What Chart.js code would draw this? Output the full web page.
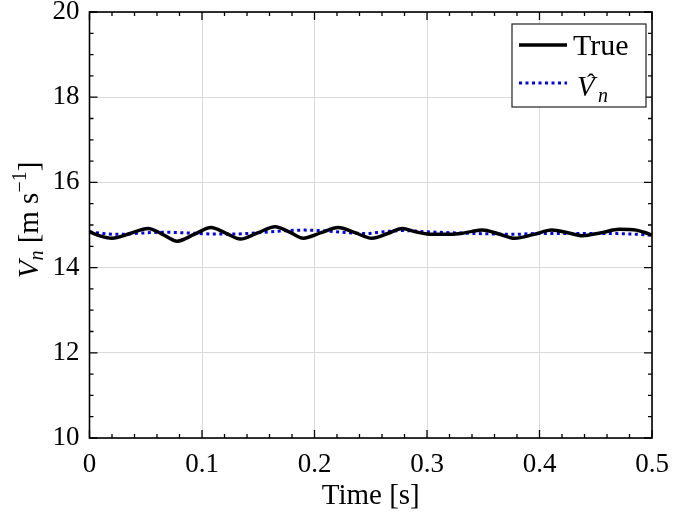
<!DOCTYPE html>
<html>
<head>
<meta charset="utf-8">
<script src="https://cdn.jsdelivr.net/npm/chart.js@4.4.1/dist/chart.umd.min.js"></script>
<style>
  html, body { margin: 0; padding: 0; background: #fff; }
  #wrap { width: 694px; height: 516px; }
</style>
</head>
<body>
<div id="wrap"><canvas id="chart" width="694" height="516"></canvas></div>
<script>
// valores
const trueTimes = [0, 0.010, 0.020, 0.036, 0.052, 0.065, 0.078, 0.093, 0.108, 0.121, 0.134, 0.150, 0.165, 0.178, 0.190, 0.206, 0.221, 0.236, 0.251, 0.265, 0.278, 0.290, 0.300, 0.315, 0.330, 0.340, 0.349, 0.364, 0.378, 0.395, 0.411, 0.425, 0.438, 0.455, 0.471, 0.486, 0.493, 0.5];
const trueValues = [14.84, 14.74, 14.69, 14.80, 14.92, 14.78, 14.62, 14.78, 14.94, 14.81, 14.67, 14.82, 14.96, 14.83, 14.69, 14.82, 14.94, 14.82, 14.69, 14.80, 14.92, 14.84, 14.79, 14.78, 14.80, 14.85, 14.88, 14.79, 14.69, 14.78, 14.88, 14.82, 14.75, 14.82, 14.90, 14.88, 14.83, 14.76];

const estTimes = [0, 0.012, 0.025, 0.045, 0.066, 0.09, 0.11, 0.13, 0.15, 0.17, 0.19, 0.205, 0.225, 0.245, 0.262, 0.278, 0.30, 0.32, 0.345, 0.375, 0.40, 0.43, 0.46, 0.48, 0.5];
const estValues = [14.84, 14.80, 14.78, 14.81, 14.83, 14.81, 14.79, 14.79, 14.82, 14.86, 14.88, 14.87, 14.83, 14.80, 14.84, 14.87, 14.84, 14.82, 14.80, 14.78, 14.80, 14.80, 14.80, 14.79, 14.76];

const xTicks = [0, 0.1, 0.2, 0.3, 0.4, 0.5];
const yTicks = [10, 12, 14, 16, 18, 20];

const FONT = '"Liberation Serif", "DejaVu Serif", serif';

// ticks para dentro, moldura, legenda e títulos
const decor = {
    id: 'decor',
    afterDraw(chart) {
        const c = chart.ctx;
        const a = chart.chartArea;
        const xs = chart.scales.x, ys = chart.scales.y;
        c.save();
        c.strokeStyle = '#000';
        c.lineWidth = 1.3;
        c.beginPath();
        for (let i = 0; i <= 25; i++) {
            const px = xs.getPixelForValue(i * 0.02);
            const len = (i % 5 === 0) ? 8 : 4;
            c.moveTo(px, a.bottom); c.lineTo(px, a.bottom - len);
            c.moveTo(px, a.top); c.lineTo(px, a.top + len);
        }
        for (let i = 0; i <= 20; i++) {
            const py = ys.getPixelForValue(10 + i * 0.5);
            const len = (i % 4 === 0) ? 8 : 4;
            c.moveTo(a.left, py); c.lineTo(a.left + len, py);
            c.moveTo(a.right, py); c.lineTo(a.right - len, py);
        }
        c.stroke();
        c.lineWidth = 1.6;
        c.strokeRect(a.left, a.top, a.right - a.left, a.bottom - a.top);

        // legenda
        const lx = 512, ly = 24, lw = 134, lh = 83;
        c.fillStyle = '#fff';
        c.fillRect(lx, ly, lw, lh);
        c.lineWidth = 1.2;
        c.strokeStyle = '#222';
        c.strokeRect(lx, ly, lw, lh);
        c.lineWidth = 3.5;
        c.strokeStyle = '#000';
        c.beginPath(); c.moveTo(519, 45); c.lineTo(567, 45); c.stroke();
        c.lineWidth = 3;
        c.strokeStyle = '#0000ff';
        c.setLineDash([3, 3.5]);
        c.beginPath(); c.moveTo(519, 83); c.lineTo(567, 83); c.stroke();
        c.setLineDash([]);
        c.fillStyle = '#000';
        c.textBaseline = 'alphabetic';
        c.textAlign = 'left';
        c.font = '30px ' + FONT;
        c.fillText('True', 573, 55);
        c.font = 'italic 29px ' + FONT;
        c.fillText('V', 577, 96);
        c.font = '24px ' + FONT;
        c.textAlign = 'center';
        c.fillText('\u02C6', 591, 90);
        c.textAlign = 'left';
        c.font = 'italic 20px ' + FONT;
        c.fillText('n', 598, 102);

        // título eixo x
        c.font = '29px ' + FONT;
        c.textAlign = 'center';
        c.fillText('Time [s]', (a.left + a.right) / 2, 504);

        // título eixo y
        c.translate(38, 220);
        c.rotate(-Math.PI / 2);
        c.textAlign = 'left';
        const parts = [
            ['italic 29px ' + FONT, 'V', 0],
            ['italic 20px ' + FONT, 'n', 5],
            ['29px ' + FONT, ' [m s', 0],
            ['20px ' + FONT, '\u22121', -12],
            ['29px ' + FONT, ']', 0]
        ];
        let w = 0;
        parts.forEach(p => { c.font = p[0]; w += c.measureText(p[1]).width; });
        let x0 = -w / 2;
        parts.forEach(p => {
            c.font = p[0];
            c.fillText(p[1], x0, p[2]);
            x0 += c.measureText(p[1]).width;
        });
        c.restore();
    }
};

new Chart(document.getElementById('chart'), {
    type: 'line',
    data: {
        datasets: [
            {
                label: 'True',
                data: trueTimes.map((t, i) => ({ x: t, y: trueValues[i] })),
                borderColor: '#000',
                borderWidth: 3.5,
                pointRadius: 0,
                cubicInterpolationMode: 'monotone'
            },
            {
                label: 'Vn hat',
                data: estTimes.map((t, i) => ({ x: t, y: estValues[i] })),
                borderColor: '#0000ff',
                borderWidth: 3,
                borderDash: [3, 3.5],
                pointRadius: 0,
                cubicInterpolationMode: 'monotone'
            }
        ]
    },
    options: {
        responsive: false,
        animation: false,
        layout: { padding: { top: 12, right: 42, left: 0, bottom: 0 } },
        plugins: { legend: { display: false }, tooltip: { enabled: false } },
        scales: {
            x: {
                type: 'linear',
                min: 0, max: 0.5,
                afterBuildTicks: s => { s.ticks = xTicks.map(v => ({ value: v })); },
                afterFit: s => { s.height = 78; s.paddingLeft = 0; s.paddingRight = 0; },
                grid: { color: '#dadada', lineWidth: 1, drawTicks: false },
                border: { display: false },
                ticks: {
                    padding: 11,
                    color: '#000',
                    font: { family: FONT, size: 27 },
                    callback: v => v === 0 ? '0' : v.toFixed(1)
                }
            },
            y: {
                min: 10, max: 20,
                afterBuildTicks: s => { s.ticks = yTicks.map(v => ({ value: v })); },
                afterFit: s => { s.width = 89.5; s.paddingTop = 0; s.paddingBottom = 0; },
                grid: { color: '#dadada', lineWidth: 1, drawTicks: false },
                border: { display: false },
                ticks: {
                    padding: 10,
                    color: '#000',
                    font: { family: FONT, size: 27 }
                }
            }
        }
    },
    plugins: [decor]
});
</script>
</body>
</html>
